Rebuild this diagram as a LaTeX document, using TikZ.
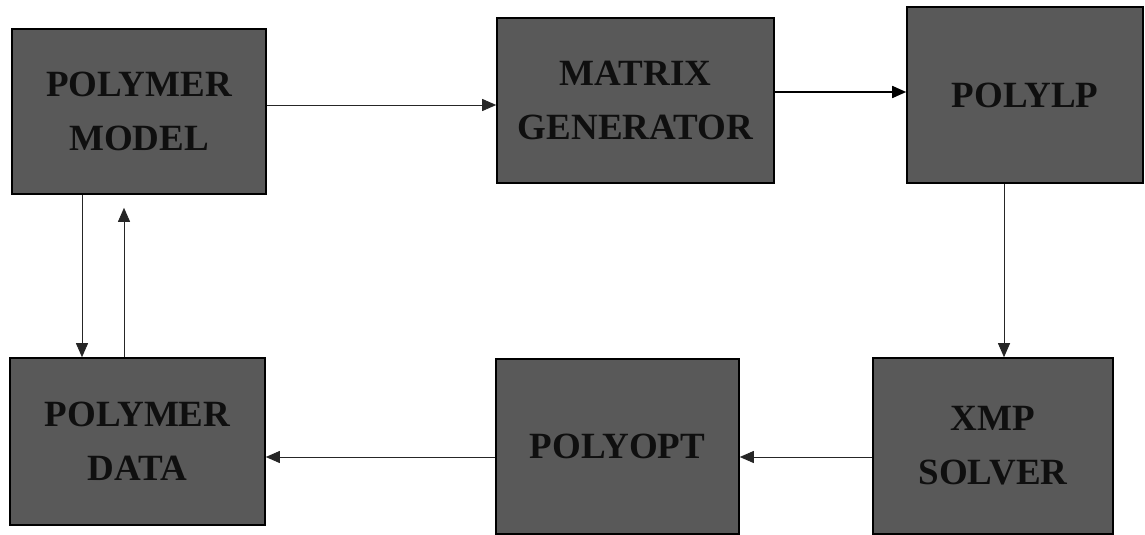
\documentclass[tikz,border=0pt]{standalone}
\usepackage{fontspec}
\setmainfont{Liberation Serif}
\usetikzlibrary{arrows.meta}
\definecolor{boxfill}{gray}{0.35}
\definecolor{boxtext}{gray}{0.06}
\begin{document}
\begin{tikzpicture}[x=1pt,y=-1pt,
  blk/.style={draw=black,line width=1.6pt,fill=boxfill,inner sep=0pt,
    text=boxtext,align=center,
    font=\fontsize{37}{54}\selectfont\bfseries},
  arr/.style={line width=0.9pt,draw=black!85,-{Triangle[length=14pt,width=12pt]}}]
\useasboundingbox (0,0) rectangle (1145,535);
\node[blk,minimum width=254pt,minimum height=165pt] (m) at (139,111.5) {POLYMER\\MODEL};
\node[blk,minimum width=277pt,minimum height=165pt] (g) at (635.5,100.5) {MATRIX\\GENERATOR};
\node[blk,minimum width=236pt,minimum height=176pt] (p) at (1025,95) {POLYLP};
\node[blk,minimum width=255pt,minimum height=167pt] (d) at (137.5,441.5) {POLYMER\\DATA};
\node[blk,minimum width=243pt,minimum height=175pt] (o) at (617.5,446.5) {POLYOPT};
\node[blk,minimum width=240pt,minimum height=176pt] (x) at (993,446) {XMP\\SOLVER};
% model -> matrix generator
\draw[arr] ([yshift=6.5pt]m.east) coordinate (s1) -- (s1 -| g.west);
% matrix generator -> polylp
\draw[arr,line width=1.6pt,draw=black] ([yshift=3pt]p.west -| g.east) -- ([yshift=3pt]p.west);
% polylp -> xmp solver
\draw[arr] ([xshift=-21pt]p.south) coordinate (s3) -- (s3 |- x.north);
% xmp solver -> polyopt
\draw[arr] ([yshift=-11pt]x.west) coordinate (s4) -- (s4 -| o.east);
% polyopt -> polymer data
\draw[arr] ([yshift=-10.5pt]o.west) coordinate (s5) -- (s5 -| d.east);
% model -> data
\draw[arr] ([xshift=-57pt]m.south) coordinate (s6) -- (s6 |- d.north);
% data -> model
\coordinate (t7) at ([xshift=-15pt,yshift=-13pt]m.south);
\draw[arr] (t7 |- d.north) -- (t7);
\end{tikzpicture}
\end{document}
